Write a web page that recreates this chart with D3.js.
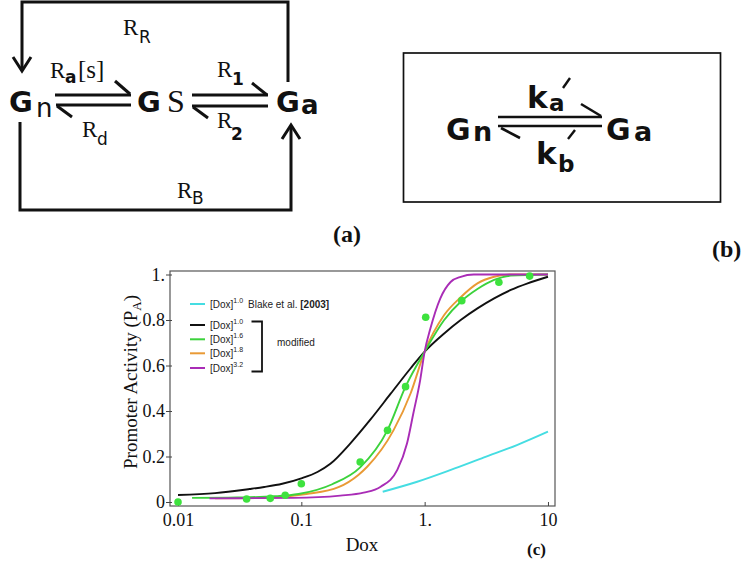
<!DOCTYPE html>
<html>
<head>
<meta charset="utf-8">
<script src="https://cdn.jsdelivr.net/npm/d3@7.9.0/dist/d3.min.js"></script>
<style>
  body { margin: 0; background: #fff; }
  svg { display: block; }
</style>
</head>
<body>
<svg id="fig" width="745" height="565"></svg>
<script>
// === Data ===
// measured points (green dots)
const measDox = [0.01, 0.036, 0.056, 0.074, 0.1, 0.3, 0.5, 0.7, 1.02, 2.0, 4.0, 7.1];
const measPA  = [0.0, 0.013, 0.016, 0.03, 0.08, 0.176, 0.315, 0.507, 0.812, 0.885, 0.966, 0.993];

// Blake et al. [2003], exponent 1.0 (cyan)
const blakeDox = [0.457, 0.87, 1.63, 3.03, 5.6, 10];
const blakePA  = [0.045, 0.089, 0.141, 0.196, 0.25, 0.309];

// modified, exponent 1.0 (black)
const mod10Dox = [0.01, 0.02, 0.038, 0.05, 0.07, 0.1, 0.135, 0.172, 0.25, 0.364, 0.53, 0.77, 1.0, 1.44, 1.96, 2.68, 3.66, 5.0, 6.84, 10];
const mod10PA  = [0.031, 0.039, 0.057, 0.066, 0.08, 0.104, 0.132, 0.168, 0.258, 0.363, 0.476, 0.588, 0.661, 0.741, 0.8, 0.851, 0.895, 0.932, 0.961, 0.99];

// modified, exponent 1.6 (green)
const mod16Dox = [0.013, 0.03, 0.06, 0.095, 0.178, 0.3, 0.5, 0.7, 1.0, 1.44, 1.96, 2.68, 3.66, 5, 10];
const mod16PA  = [0.018, 0.02, 0.025, 0.035, 0.078, 0.152, 0.316, 0.507, 0.661, 0.8, 0.88, 0.936, 0.976, 0.995, 1.0];

// modified, exponent 1.8 (orange)
const mod18Dox = [0.02, 0.05, 0.11, 0.2, 0.29, 0.342, 0.56, 0.77, 1.0, 1.44, 1.96, 2.68, 3.66, 5, 10];
const mod18PA  = [0.016, 0.018, 0.035, 0.065, 0.119, 0.155, 0.316, 0.478, 0.661, 0.822, 0.9, 0.961, 0.99, 1.0, 1.0];

// modified, exponent 3.2 (magenta)
const mod32Dox = [0.018, 0.086, 0.207, 0.32, 0.44, 0.6, 0.72, 0.81, 0.92, 1.0, 1.11, 1.34, 1.63, 1.96, 2.5, 10];
const mod32PA  = [0.016, 0.018, 0.028, 0.041, 0.067, 0.141, 0.258, 0.39, 0.536, 0.661, 0.76, 0.895, 0.968, 0.99, 1.0, 1.0];

const xTicks = [0.01, 0.1, 1, 10];
const xTickLabels = ['0.01', '0.1', '1.', '10'];
const yTicks = [0, 0.2, 0.4, 0.6, 0.8, 1];
const yTickLabels = ['0', '0.2', '0.4', '0.6', '0.8', '1.'];

const legendExps = ['1.0', '1.0', '1.6', '1.8', '3.2'];

const C = {
  cyan: '#45dde2',
  black: '#111111',
  green: '#3cd23c',
  orange: '#e99a35',
  magenta: '#a92cb6',
  dot: '#3ee23e'
};

const svg = d3.select('#fig');
const SERIF = 'Liberation Serif, Times New Roman, serif';
const SANS = 'DejaVu Sans, Verdana, sans-serif';
const ARIAL = 'Liberation Sans, Arial, sans-serif';

function txt(g, x, y, s, size, family, weight) {
  return g.append('text')
    .attr('x', x).attr('y', y)
    .attr('font-size', size)
    .attr('font-family', family)
    .attr('font-weight', weight || 'normal')
    .attr('fill', '#111')
    .text(s);
}

// === (a) reaction scheme ===
const ga = svg.append('g')
  .attr('fill', 'none')
  .attr('stroke', '#111')
  .attr('stroke-width', 3);

ga.append('path').attr('d', 'M22,68 V2 H288 V82');
ga.append('path').attr('d', 'M13,57 L22,71 L31,57');
ga.append('path').attr('d', 'M20,122 V210 H291 V127');
ga.append('path').attr('d', 'M282,139 L291,125 L300,139');

// Gn <-> GS
ga.append('path').attr('d', 'M55,95 H131');
ga.append('path').attr('d', 'M115,81 L130,94');
ga.append('path').attr('d', 'M56,105 H131');
ga.append('path').attr('d', 'M57,106 L72,117');
// GS <-> Ga
ga.append('path').attr('d', 'M192,95 H268');
ga.append('path').attr('d', 'M252,83 L267,95');
ga.append('path').attr('d', 'M192,106 H268');
ga.append('path').attr('d', 'M193,107 L208,118');

const ta = svg.append('g');
txt(ta, 9, 112, 'G', 29, SANS, 'bold');
txt(ta, 36, 117, 'n', 26, SANS);
txt(ta, 137, 112, 'G', 29, SANS, 'bold');
txt(ta, 167, 112, 'S', 32, SERIF);
txt(ta, 276, 112, 'G', 29, SANS, 'bold');
txt(ta, 301, 114, 'a', 26, SANS, 'bold');

txt(ta, 123, 35, 'R', 23, SERIF);
txt(ta, 139, 43, 'R', 17, SANS);
txt(ta, 50, 78, 'R', 23, SERIF);
txt(ta, 65, 83, 'a', 17, SANS, 'bold');
txt(ta, 78, 78, '[s]', 25, SERIF);
txt(ta, 82, 137, 'R', 23, SERIF);
txt(ta, 97, 145, 'd', 17, SANS);
txt(ta, 217, 77, 'R', 23, SERIF);
txt(ta, 232, 85, '1', 17, SANS, 'bold');
txt(ta, 217, 128, 'R', 23, SERIF);
txt(ta, 231, 140, '2', 17, SANS, 'bold');
txt(ta, 177, 198, 'R', 23, SERIF);
txt(ta, 192, 204, 'B', 17, SANS);

txt(ta, 333, 242, '(a)', 24, SERIF, 'bold');

// === (b) two-state scheme ===
const gb = svg.append('g')
  .attr('fill', 'none')
  .attr('stroke', '#111');

gb.append('rect')
  .attr('x', 403.5).attr('y', 53)
  .attr('width', 317).attr('height', 149)
  .attr('stroke-width', 1.7);

gb.append('path').attr('d', 'M498,117 H602').attr('stroke-width', 2.6);
gb.append('path').attr('d', 'M581,104 L601,116').attr('stroke-width', 2.6);
gb.append('path').attr('d', 'M498,126 H602').attr('stroke-width', 2.6);
gb.append('path').attr('d', 'M501,128 L520,138').attr('stroke-width', 2.6);
// primes
gb.append('path').attr('d', 'M563,88 L570,78').attr('stroke-width', 2.4);
gb.append('path').attr('d', 'M568,139 L575,130').attr('stroke-width', 2.4);

const tb = svg.append('g');
txt(tb, 446, 140, 'G', 30, SANS, 'bold');
txt(tb, 473, 141, 'n', 27, SANS, 'bold');
txt(tb, 606, 140, 'G', 30, SANS, 'bold');
txt(tb, 634, 141, 'a', 27, SANS, 'bold');
txt(tb, 527, 108, 'k', 31, SANS, 'bold');
txt(tb, 549, 111, 'a', 23, SANS, 'bold');
txt(tb, 536, 164, 'k', 31, SANS, 'bold');
txt(tb, 558, 172, 'b', 23, SANS, 'bold');

txt(tb, 712, 257, '(b)', 24, SERIF, 'bold');

// === (c) promoter activity vs Dox ===
const pLeft = 170, pRight = 555, pTop = 271, pBottom = 506;

const x = d3.scaleLog()
  .domain([Math.pow(10, -2.065), Math.pow(10, 1.057)])
  .range([pLeft, pRight]);
const y = d3.scaleLinear()
  .domain([0, 1])
  .range([502, 274.5]);

const plot = svg.append('g');

// frame
plot.append('rect')
  .attr('x', pLeft).attr('y', pTop)
  .attr('width', pRight - pLeft).attr('height', pBottom - pTop)
  .attr('fill', 'none')
  .attr('stroke', '#555')
  .attr('stroke-width', 1.2);

const xAxis = d3.axisBottom(x)
  .tickValues(xTicks)
  .tickFormat((d, i) => xTickLabels[i])
  .tickSize(-4)
  .tickPadding(7);

const yAxis = d3.axisLeft(y)
  .tickValues(yTicks)
  .tickFormat((d, i) => yTickLabels[i])
  .tickSize(4)
  .tickPadding(1);

const gx = plot.append('g')
  .attr('transform', `translate(0,${pBottom})`)
  .call(xAxis);
const gy = plot.append('g')
  .attr('transform', `translate(${pLeft},0)`)
  .call(yAxis);

[gx, gy].forEach((g) => {
  g.select('.domain').remove();
  g.selectAll('.tick line').attr('stroke', '#444');
  g.selectAll('.tick text')
    .attr('font-family', SERIF)
    .attr('font-size', 18)
    .attr('fill', '#111');
});
gy.selectAll('.tick line').attr('x2', -4).attr('x1', 2);

// axis titles
plot.append('text')
  .attr('x', 362).attr('y', 551)
  .attr('text-anchor', 'middle')
  .attr('font-family', SERIF)
  .attr('font-size', 19)
  .attr('fill', '#111')
  .text('Dox');

const yt = plot.append('text')
  .attr('transform', 'translate(137,382) rotate(-90)')
  .attr('text-anchor', 'middle')
  .attr('font-family', SERIF)
  .attr('font-size', 19)
  .attr('fill', '#111');
yt.append('tspan').text('Promoter Activity (P');
yt.append('tspan').attr('font-size', 13).attr('dy', 4).text('A');
yt.append('tspan').attr('dy', -4).text(')');

plot.append('text')
  .attr('x', 527).attr('y', 555)
  .attr('font-family', SERIF)
  .attr('font-size', 17)
  .attr('font-weight', 'bold')
  .attr('fill', '#111')
  .text('(c)');

// curves
const line = d3.line()
  .x((d) => x(d[0]))
  .y((d) => y(d[1]))
  .curve(d3.curveMonotoneX);

const series = [
  { dox: blakeDox, pa: blakePA, color: C.cyan },
  { dox: mod10Dox, pa: mod10PA, color: C.black },
  { dox: mod18Dox, pa: mod18PA, color: C.orange },
  { dox: mod16Dox, pa: mod16PA, color: C.green },
  { dox: mod32Dox, pa: mod32PA, color: C.magenta }
];

series.forEach((s) => {
  plot.append('path')
    .datum(d3.zip(s.dox, s.pa))
    .attr('d', line)
    .attr('fill', 'none')
    .attr('stroke', s.color)
    .attr('stroke-width', 1.9);
});

plot.selectAll('circle.meas')
  .data(d3.zip(measDox, measPA))
  .join('circle')
  .attr('class', 'meas')
  .attr('cx', (d) => x(d[0]))
  .attr('cy', (d) => y(d[1]))
  .attr('r', 3.8)
  .attr('fill', C.dot);

// legend
const legendColors = [C.cyan, C.black, C.green, C.orange, C.magenta];
const legendY = [304, 325, 339.3, 353.3, 368];
const lg = plot.append('g');
legendColors.forEach((c, i) => {
  lg.append('line')
    .attr('x1', 190).attr('x2', 205)
    .attr('y1', legendY[i]).attr('y2', legendY[i])
    .attr('stroke', c)
    .attr('stroke-width', 2);
  const t = lg.append('text')
    .attr('x', 210).attr('y', legendY[i] + 4)
    .attr('font-family', ARIAL)
    .attr('font-size', 10)
    .attr('fill', '#222');
  t.append('tspan').text('[Dox]');
  t.append('tspan').attr('font-size', 7).attr('dy', -5).text(legendExps[i]);
});
const bl = lg.append('text')
  .attr('x', 248).attr('y', 308)
  .attr('font-family', ARIAL)
  .attr('font-size', 10)
  .attr('fill', '#222');
bl.append('tspan').text('Blake et al. ');
bl.append('tspan').attr('font-weight', 'bold').text('[2003]');

lg.append('path')
  .attr('d', 'M251.5,321.5 H262 V371.5 H251.5')
  .attr('fill', 'none')
  .attr('stroke', '#111')
  .attr('stroke-width', 1.8);

lg.append('text')
  .attr('x', 277).attr('y', 346)
  .attr('font-family', ARIAL)
  .attr('font-size', 10)
  .attr('fill', '#222')
  .text('modified');
</script>
</body>
</html>
